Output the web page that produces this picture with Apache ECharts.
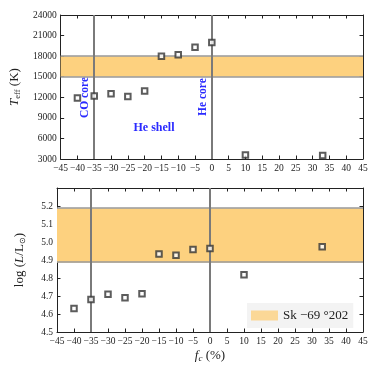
<!DOCTYPE html>
<html><head><meta charset="utf-8">
<script src="https://cdn.jsdelivr.net/npm/echarts@6/dist/echarts.min.js"></script>
<style>html,body{margin:0;padding:0;background:#fff}#c{width:374px;height:374px}</style>
</head><body><div id="c"></div>
<script>
const fc = [-40, -35, -30, -25, -20, -15, -10, -5, 0, 10, 33];
const teff = [11900, 12200, 12500, 12100, 12900, 18000, 18200, 19300, 20000, 3600, 3500];
const logL = [4.63, 4.68, 4.71, 4.69, 4.713, 4.933, 4.927, 4.959, 4.964, 4.818, 4.974];
const teffBand = [15000, 18000];
const logLBand = [4.886, 5.187];
const vLines = [-35, 0];
const bandName = 'Sk \u221269 \u00b0202';

const serif = 'Liberation Serif';
const minus = v => String(v).replace('-', '\u2212');
function xAx(grid, pos, labels) {
  return {type:'value', gridIndex:grid, position:pos, min:-45, max:45, interval:5,
    axisLine:{show:true, onZero:false, lineStyle:{color:'#222', width:1}},
    axisTick:{show:true, inside:true, length:3.5, lineStyle:{color:'#222'}},
    axisLabel:{show:labels, color:'#222', fontFamily:serif, fontSize:9.5, margin:4, formatter:minus},
    splitLine:{show:false}};
}
function yAx(grid, pos, min, max, interval, labels, fmt) {
  return {type:'value', gridIndex:grid, position:pos, min:min, max:max, interval:interval,
    axisLine:{show:true, onZero:false, lineStyle:{color:'#222', width:1}},
    axisTick:{show:true, inside:true, length:3.5, lineStyle:{color:'#222'}},
    axisLabel:{show:labels, color:'#222', fontFamily:serif, fontSize:9.5, margin:4, formatter:fmt,
      showMaxLabel: max === 24000},
    splitLine:{show:false}};
}
const xTop = xAx(0,'bottom',true);
const xTop2 = xAx(0,'top',false);
const xBot = xAx(1,'bottom',true);
xBot.name = '{i|f}{s|c}{n| (%)}';
xBot.nameLocation = 'middle';
xBot.nameGap = 16;
xBot.nameTextStyle = {rich:{i:{fontFamily:serif, fontStyle:'italic', fontSize:13, color:'#222'},
  s:{fontFamily:serif, fontStyle:'italic', fontSize:9, color:'#222', verticalAlign:'bottom', padding:[6,0,0,0]},
  n:{fontFamily:serif, fontSize:13, color:'#222'}}};
const xBot2 = xAx(1,'top',false);

const yTop = yAx(0,'left',3000,24000,3000,true, v=>String(v));
yTop.name = '{i|T}{s|eff}{n| (K)}';
yTop.nameLocation = 'middle';
yTop.nameGap = 32;
yTop.nameTextStyle = {rich:{i:{fontFamily:serif, fontStyle:'italic', fontSize:13, color:'#222'},
  s:{fontFamily:serif, fontSize:8.5, color:'#222', padding:[6,0,0,0]},
  n:{fontFamily:serif, fontSize:13, color:'#222'}}};
const yTop2 = yAx(0,'right',3000,24000,3000,false);
const yBot = yAx(1,'left',4.5,5.3,0.1,true, v=>v.toFixed(1));
yBot.axisLabel.showMaxLabel = false;
yBot.name = '{n|log (}{i|L}{n|/L}{s|\u2299}{n|)}';
yBot.nameLocation = 'middle';
yBot.nameGap = 30;
yBot.nameTextStyle = {rich:{i:{fontFamily:serif, fontStyle:'italic', fontSize:13, color:'#222'},
  s:{fontFamily:serif, fontSize:8, color:'#222', padding:[6,0,0,0]},
  n:{fontFamily:serif, fontSize:13, color:'#222'}}};
const yBot2 = yAx(1,'right',4.5,5.3,0.1,false);

const bandColor = '#fdd17f';
function bandSeries(xi, yi, band) {
  return {name:bandName, type:'scatter', xAxisIndex:xi, yAxisIndex:yi, data:[],
    itemStyle:{color:bandColor}, silent:true, z:1,
    markArea:{silent:true, itemStyle:{color:bandColor, borderWidth:0}, data:[[{yAxis:band[0]},{yAxis:band[1]}]]},
    markLine:{silent:true, symbol:'none', label:{show:false}, lineStyle:{color:'#999', width:1.5, type:'solid'},
      data:[{yAxis:band[0]},{yAxis:band[1]}]}};
}
function vlineSeries(xi, yi) {
  return {type:'scatter', xAxisIndex:xi, yAxisIndex:yi, data:[], silent:true, z:2,
    markLine:{silent:true, symbol:'none', label:{show:false}, lineStyle:{color:'#7a7a7a', width:2, type:'solid'},
      data: vLines.map(v=>({xAxis:v}))}};
}
function pts(xi, yi, ys) {
  return {type:'scatter', xAxisIndex:xi, yAxisIndex:yi, symbol:'rect', symbolSize:5.5, z:5,
    itemStyle:{color:'#fff', borderColor:'#333', borderWidth:2},
    data: fc.map((x,i)=>[x, ys[i]])};
}
const chart = echarts.init(document.getElementById('c'), null, {renderer:'canvas'});
chart.setOption({
  animation:false,
  grid:[{left:57, right:11, top:15, height:144}, {left:57, right:11, top:188, height:144}],
  xAxis:[xTop, xTop2, xBot, xBot2],
  yAxis:[yTop, yTop2, yBot, yBot2],
  legend:{data:[{name:bandName, icon:'rect'}], left:247, top:303, itemWidth:27, itemHeight:10, itemGap:5,
    padding:[6,5,6,4], backgroundColor:'rgba(242,242,242,0.9)',
    textStyle:{fontFamily:serif, fontSize:13, color:'#222'}, selectedMode:false},
  series:[
    bandSeries(0,0,teffBand), vlineSeries(0,0), pts(0,0,teff),
    bandSeries(2,2,logLBand), vlineSeries(2,2), pts(2,2,logL)
  ],
  graphic:[
    {type:'text', x:85, y:118, rotation:Math.PI/2, style:{text:'CO core', fill:'#2a2aff', font:'bold 11.5px "Liberation Serif"', textAlign:'left', textVerticalAlign:'middle'}},
    {type:'text', x:203, y:116, rotation:Math.PI/2, style:{text:'He core', fill:'#2a2aff', font:'bold 11.5px "Liberation Serif"', textAlign:'left', textVerticalAlign:'middle'}},
    {type:'text', x:154, y:128, style:{text:'He shell', fill:'#2a2aff', font:'bold 12px "Liberation Serif"', textAlign:'center', textVerticalAlign:'middle'}}
  ]
});
</script></body></html>
